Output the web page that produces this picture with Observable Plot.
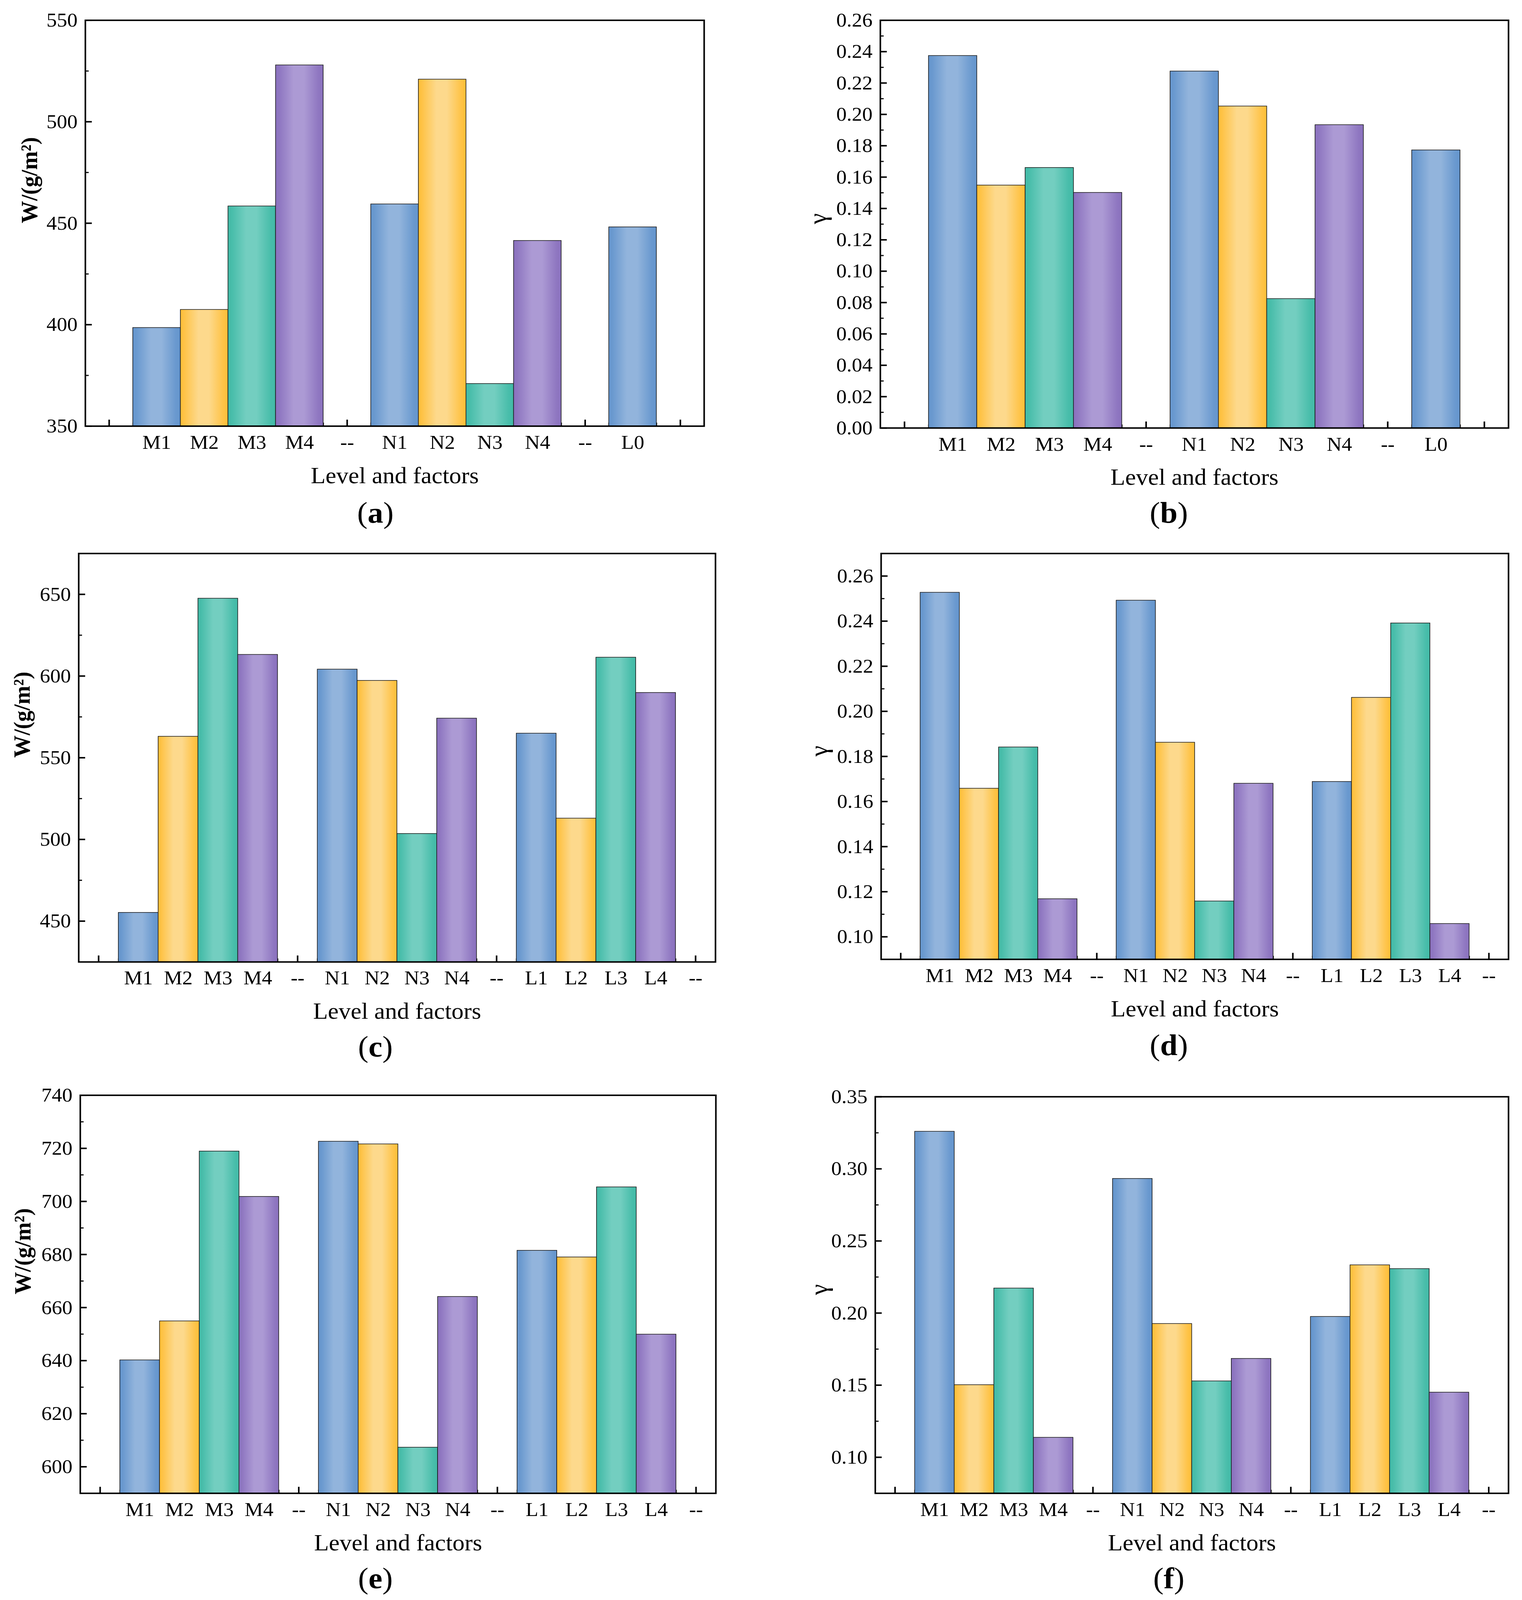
<!DOCTYPE html>
<html><head><meta charset="utf-8">
<script src="https://cdn.jsdelivr.net/npm/d3@7"></script>
<script src="https://cdn.jsdelivr.net/npm/@observablehq/plot@0.6"></script>
<style>
html,body{margin:0;padding:0;background:#fff;overflow:hidden;}
#page{position:relative;width:3896px;height:4297px;background:#fff;overflow:hidden;transform-origin:0 0;font-family:"Liberation Serif","Times New Roman",serif;}
.panel{position:absolute;}
.cap{position:absolute;transform:translate(-50%,-50%);font-size:80px;line-height:1;white-space:nowrap;color:#000;font-family:"Liberation Serif","Times New Roman",serif;}
</style></head><body>
<svg width="0" height="0" style="position:absolute;left:0;top:0">
<defs>
<linearGradient id="gBlue" x1="0" x2="1" y1="0" y2="0">
<stop offset="0" stop-color="#6495CD"/><stop offset="0.08" stop-color="#6A99CF"/><stop offset="0.38" stop-color="#92B4DC"/><stop offset="0.6" stop-color="#92B4DC"/><stop offset="0.9" stop-color="#6A99CF"/><stop offset="1" stop-color="#6495CD"/>
</linearGradient>
<linearGradient id="gYellow" x1="0" x2="1" y1="0" y2="0">
<stop offset="0" stop-color="#FFBF37"/><stop offset="0.08" stop-color="#FEC347"/><stop offset="0.38" stop-color="#FDD98C"/><stop offset="0.6" stop-color="#FDD98C"/><stop offset="0.9" stop-color="#FEC347"/><stop offset="1" stop-color="#FFBF37"/>
</linearGradient>
<linearGradient id="gTeal" x1="0" x2="1" y1="0" y2="0">
<stop offset="0" stop-color="#42BAA7"/><stop offset="0.08" stop-color="#48BDAA"/><stop offset="0.38" stop-color="#73CEC0"/><stop offset="0.6" stop-color="#73CEC0"/><stop offset="0.9" stop-color="#48BDAA"/><stop offset="1" stop-color="#42BAA7"/>
</linearGradient>
<linearGradient id="gPurple" x1="0" x2="1" y1="0" y2="0">
<stop offset="0" stop-color="#8A71BE"/><stop offset="0.08" stop-color="#8F77C1"/><stop offset="0.38" stop-color="#AC9AD4"/><stop offset="0.6" stop-color="#AC9AD4"/><stop offset="0.9" stop-color="#8F77C1"/><stop offset="1" stop-color="#8A71BE"/>
</linearGradient>
</defs></svg>
<div id="page"></div>
<script>
// ---------- data ----------
const catsShort = ["", "M1", "M2", "M3", "M4", "--", "N1", "N2", "N3", "N4", "--", "L0", ""];
const catsLong  = ["", "M1", "M2", "M3", "M4", "--", "N1", "N2", "N3", "N4", "--", "L1", "L2", "L3", "L4", "--"];

const valuesA = [null, 398.5, 407.4, 458.4, 527.9, null, 459.4, 520.9, 370.9, 441.4, null, 448.1, null];
const valuesB = [null, 0.2374, 0.1548, 0.1660, 0.1501, null, 0.2275, 0.2052, 0.0824, 0.1933, null, 0.1772, null];
const valuesC = [null, 455.2, 563.0, 647.5, 613.1, null, 604.1, 597.2, 503.5, 574.1, null, 564.9, 512.9, 611.4, 589.8, null];
const valuesD = [null, 0.2527, 0.1658, 0.1841, 0.1168, null, 0.2492, 0.1862, 0.1158, 0.1680, null, 0.1688, 0.2061, 0.2391, 0.1058, null];
const valuesE = [null, 640.2, 654.9, 718.9, 701.8, null, 722.6, 721.6, 607.3, 664.1, null, 681.5, 679.0, 705.4, 649.9, null];
const valuesF = [null, 0.3259, 0.1502, 0.2172, 0.1137, null, 0.2932, 0.1926, 0.1528, 0.1684, null, 0.1975, 0.2333, 0.2307, 0.1450, null];

const ticksA = [350, 400, 450, 500, 550];
const minorA = [375, 425, 475, 525];
const ticksB = [0.00, 0.02, 0.04, 0.06, 0.08, 0.10, 0.12, 0.14, 0.16, 0.18, 0.20, 0.22, 0.24, 0.26];
const minorB = [0.01, 0.03, 0.05, 0.07, 0.09, 0.11, 0.13, 0.15, 0.17, 0.19, 0.21, 0.23, 0.25];
const ticksC = [450, 500, 550, 600, 650];
const minorC = [475, 525, 575, 625];
const ticksD = [0.10, 0.12, 0.14, 0.16, 0.18, 0.20, 0.22, 0.24, 0.26];
const minorD = [0.11, 0.13, 0.15, 0.17, 0.19, 0.21, 0.23, 0.25];
const ticksE = [600, 620, 640, 660, 680, 700, 720, 740];
const minorE = [610, 630, 650, 670, 690, 710, 730];
const ticksF = [0.10, 0.15, 0.20, 0.25, 0.30, 0.35];
const minorF = [0.125, 0.175, 0.225, 0.275, 0.325];

const xTitle = "Level and factors";
const yTitleW = "W/(g/m²)";
const yTitleG = "γ";

// ---------- style ----------
const levelFill = {"0": "url(#gBlue)", "1": "url(#gBlue)", "2": "url(#gYellow)", "3": "url(#gTeal)", "4": "url(#gPurple)"};
const FONT = '"Liberation Serif", "Times New Roman", serif';

function panel(cfg) {
  const {cats, vals, yDomain, yTicks, yMinor, yFormat, yLabel, yBold, box, frame, yLabelDx, caption, capX, capY} = cfg;
  const [bx, by, width, height] = box;
  const mL = frame[0] - bx, mT = frame[1] - by, mR = bx + width - frame[2], mB = by + height - frame[3];
  const iw = width - mL - mR, ih = height - mT - mB;
  const rows = cats.map((c, i) => ({i, c, v: vals[i]})).filter(d => d.v != null);
  const idx = cats.map((c, i) => i);
  const labeled = idx.filter(i => cats[i] !== "");
  const mids = idx.slice(1).map(i => i - 0.5);
  const svg = Plot.plot({
    width, height, marginLeft: mL, marginRight: mR, marginTop: mT, marginBottom: mB,
    style: {fontFamily: FONT, fontSize: "53px", color: "#000", background: "transparent", overflow: "visible"},
    x: {domain: [-0.5, cats.length - 0.5]},
    y: {domain: yDomain},
    color: {type: "identity"},
    marks: [
      Plot.ruleY(yTicks, {y: d => d, insetRight: iw - 17, stroke: "#000", strokeWidth: 4}),
      Plot.ruleY(yMinor, {y: d => d, insetRight: iw - 9, stroke: "#000", strokeWidth: 3}),
      Plot.ruleX(idx, {x: d => d, insetTop: ih - 17, stroke: "#000", strokeWidth: 4}),
      Plot.ruleX(mids, {x: d => d, insetTop: ih - 9, stroke: "#000", strokeWidth: 3}),
      Plot.rect(rows, {x1: d => d.i - 0.5, x2: d => d.i + 0.5, y1: d => yDomain[0], y2: d => d.v,
        fill: d => levelFill[d.c.slice(-1)], stroke: "#1b1b1b", strokeWidth: 1.6}),
      Plot.frame({stroke: "#000", strokeWidth: 4}),
      Plot.axisX(labeled, {tickFormat: i => cats[i], tickSize: 0, tickPadding: 23, fontSize: 53, label: null}),
      Plot.axisY(yTicks, {tickFormat: yFormat, tickSize: 0, tickPadding: 20, fontSize: 53, label: null}),
      Plot.text([xTitle], {text: d => d, frameAnchor: "bottom", dy: 133, fontSize: 62, lineAnchor: "middle"}),
      Plot.text([yLabel], {text: d => d, frameAnchor: "left", rotate: -90, dx: yLabelDx, fontSize: yBold ? 60 : 66,
        fontWeight: yBold ? "bold" : "normal", lineAnchor: "middle"})
    ]
  });
  const wrap = document.createElement("div");
  wrap.className = "panel";
  wrap.style.left = bx + "px";
  wrap.style.top = by + "px";
  wrap.appendChild(svg);
  document.getElementById("page").appendChild(wrap);
  const cap = document.createElement("div");
  cap.className = "cap";
  cap.style.left = capX + "px";
  cap.style.top = capY + "px";
  cap.innerHTML = "(<b>" + caption + "</b>)";
  document.getElementById("page").appendChild(cap);
}

const fInt = d3.format("d");
const f2 = d3.format(".2f");

panel({cats: catsShort, vals: valuesA, yDomain: [350, 550], yTicks: ticksA, yMinor: minorA, yFormat: fInt,
  yLabel: yTitleW, yBold: true, box: [0, 0, 1940, 1330], frame: [218, 54, 1802, 1144], yLabelDx: -143,
  caption: "a", capX: 961, capY: 1377});
panel({cats: catsShort, vals: valuesB, yDomain: [0, 0.26], yTicks: ticksB, yMinor: minorB, yFormat: f2,
  yLabel: yTitleG, yBold: false, box: [1950, 0, 1946, 1330], frame: [2253, 54, 3861, 1149], yLabelDx: -160,
  caption: "b", capX: 2992, capY: 1377});
panel({cats: catsLong, vals: valuesC, yDomain: [425, 675], yTicks: ticksC, yMinor: minorC, yFormat: fInt,
  yLabel: yTitleW, yBold: true, box: [0, 1420, 1940, 1340], frame: [201, 1486, 1831, 2583], yLabelDx: -145,
  caption: "c", capX: 961, capY: 2811});
panel({cats: catsLong, vals: valuesD, yDomain: [0.09, 0.27], yTicks: ticksD, yMinor: minorD, yFormat: f2,
  yLabel: yTitleG, yBold: false, box: [1950, 1420, 1946, 1340], frame: [2255, 1486, 3861, 2576], yLabelDx: -159,
  caption: "d", capX: 2992, capY: 2807});
panel({cats: catsLong, vals: valuesE, yDomain: [590, 740], yTicks: ticksE, yMinor: minorE, yFormat: fInt,
  yLabel: yTitleW, yBold: true, box: [0, 2860, 1940, 1330], frame: [205, 2941, 1832, 4010], yLabelDx: -147,
  caption: "e", capX: 961, capY: 4239});
panel({cats: catsLong, vals: valuesF, yDomain: [0.075, 0.35], yTicks: ticksF, yMinor: minorF, yFormat: f2,
  yLabel: yTitleG, yBold: false, box: [1950, 2860, 1946, 1330], frame: [2240, 2945, 3861, 4010], yLabelDx: -144,
  caption: "f", capX: 2992, capY: 4239});

// fit the whole 3896x4297 figure into the actual viewport if it is smaller
function fitPage() {
  const vw = document.documentElement.clientWidth || window.innerWidth;
  const vh = document.documentElement.clientHeight || window.innerHeight;
  const sx = Math.min(1, vw / 3896), sy = Math.min(1, vh / 4297);
  document.getElementById("page").style.transform = (sx < 1 || sy < 1) ? `scale(${sx}, ${sy})` : "none";
}
fitPage();
window.addEventListener("resize", fitPage);
</script>
</body></html>
